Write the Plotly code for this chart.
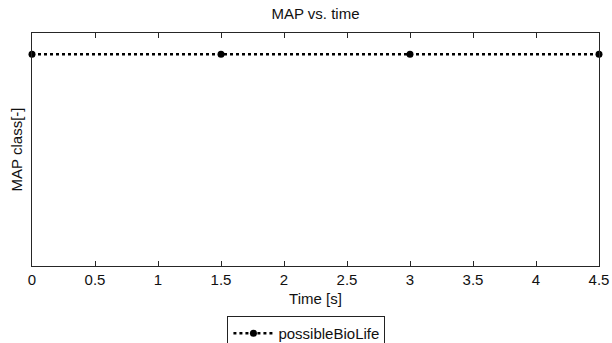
import plotly.graph_objects as go

# MAP classification sampled over time
time_s = [0, 1.5, 3.0, 4.5]
map_class = [1, 1, 1, 1]
series_name = "possibleBioLife"
x_ticks = [0, 0.5, 1, 1.5, 2, 2.5, 3, 3.5, 4, 4.5]
x_tick_labels = ["0", "0.5", "1", "1.5", "2", "2.5", "3", "3.5", "4", "4.5"]

FONT = "Liberation Sans, Arial, Helvetica, sans-serif"
AXIS_COLOR = "#262626"
FS = 15

fig = go.Figure()
fig.add_trace(go.Scatter(
    x=time_s,
    y=map_class,
    mode="lines+markers",
    name=series_name,
    line=dict(color="black", width=2.5, dash="3px,3px"),
    marker=dict(color="black", size=7, symbol="circle"),
    cliponaxis=False,
    showlegend=True,
))

fig.update_layout(
    width=612,
    height=343,
    margin=dict(l=32, r=13, t=33, b=77, autoexpand=False),
    paper_bgcolor="white",
    plot_bgcolor="white",
    font=dict(family=FONT, size=FS, color="#111111"),
    title=dict(
        text="MAP vs. time",
        x=(32 + 599) / 2 / 612,
        xanchor="center",
        y=1 - 14 / 343,
        yanchor="middle",
        font=dict(size=FS, color="#111111"),
    ),
    xaxis=dict(
        range=[0, 4.5],
        tickvals=x_ticks,
        ticktext=x_tick_labels,
        ticks="inside",
        ticklen=5,
        tickwidth=1,
        tickcolor=AXIS_COLOR,
        showline=True,
        linecolor=AXIS_COLOR,
        linewidth=1.2,
        mirror="ticks",
        showgrid=False,
        zeroline=False,
        automargin=False,
        title=dict(text="Time [s]", standoff=6, font=dict(size=FS)),
        tickfont=dict(size=FS),
    ),
    yaxis=dict(
        range=[0, 1.1],
        showticklabels=False,
        ticks="",
        showline=True,
        linecolor=AXIS_COLOR,
        linewidth=1.2,
        mirror=True,
        showgrid=False,
        zeroline=False,
        automargin=False,
        title=dict(text="MAP class[-]", standoff=4, font=dict(size=FS)),
    ),
    legend=dict(
        orientation="h",
        x=0.484,
        xanchor="center",
        y=-0.2146,
        yanchor="top",
        bordercolor="#222222",
        borderwidth=1,
        bgcolor="white",
        itemwidth=40,
        font=dict(size=FS),
    ),
)

fig.write_html("out.html")
